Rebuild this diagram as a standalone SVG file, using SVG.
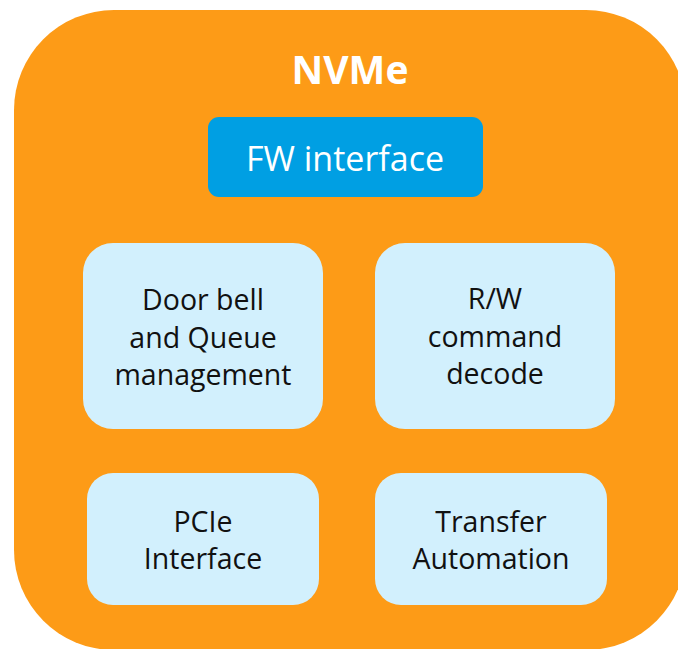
<svg xmlns="http://www.w3.org/2000/svg" width="678" height="649" viewBox="0 0 678 649">
  <style>
    .block { fill: #D2F0FD; }
    .label { font-family: "Open Sans", "Noto Sans", sans-serif; font-size: 28.5px; fill: #111111; text-anchor: middle; }
    .title { font-family: "Open Sans", "Noto Sans", sans-serif; font-size: 39px; font-weight: bold; fill: #FFFFFF; text-anchor: middle; }
    .fw { font-family: "Open Sans", "Noto Sans", sans-serif; font-size: 34px; fill: #FFFFFF; text-anchor: middle; }
  </style>
  <rect width="678" height="649" fill="#FFFFFF"/>
  <!-- NVMe container -->
  <g id="nvme">
    <rect x="14" y="10" width="672" height="640" rx="100" ry="100" fill="#FD9B17"/>
    <text class="title" x="350" y="84">NVMe</text>
  </g>
  <g id="fw-interface">
    <rect x="208" y="117" width="275" height="80" rx="11" ry="11" fill="#009FE3"/>
    <text class="fw" x="345" y="171">FW interface</text>
  </g>
  <g id="doorbell-queue">
    <rect class="block" x="83" y="243" width="240" height="186" rx="30" ry="30"/>
    <text class="label" x="203" y="310">Door bell</text>
    <text class="label" x="203" y="348">and Queue</text>
    <text class="label" x="203" y="385">management</text>
  </g>
  <g id="rw-decode">
    <rect class="block" x="375" y="243" width="240" height="186" rx="30" ry="30"/>
    <text class="label" x="495" y="309">R/W</text>
    <text class="label" x="495" y="347">command</text>
    <text class="label" x="495" y="384">decode</text>
  </g>
  <g id="pcie-interface">
    <rect class="block" x="87" y="473" width="232" height="132" rx="26" ry="26"/>
    <text class="label" x="203" y="532">PCIe</text>
    <text class="label" x="203" y="569">Interface</text>
  </g>
  <g id="transfer-automation">
    <rect class="block" x="375" y="473" width="232" height="132" rx="26" ry="26"/>
    <text class="label" x="491" y="532">Transfer</text>
    <text class="label" x="491" y="569">Automation</text>
  </g>
  <g id="connectors"/>
</svg>
